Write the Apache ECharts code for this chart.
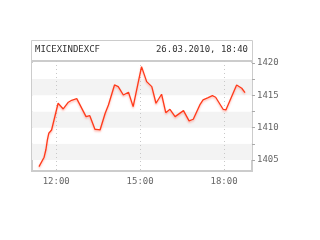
<!DOCTYPE html>
<html>
<head>
<meta charset="utf-8">
<style>html,body{margin:0;padding:0;background:#fff;}#c{width:320px;height:240px;}</style>
<script src="https://cdn.jsdelivr.net/npm/echarts@6/dist/echarts.min.js"></script>
</head>
<body>
<div id="c"></div>
<script>
var title = 'MICEXINDEXCF';
var stamp = '26.03.2010, 18:40';
var times = ['11:23','11:34','11:38','11:41','11:44','11:50','11:54','12:04','12:15','12:26','12:33','12:44','12:47',
  '13:04','13:12','13:16','13:23','13:34','13:45','13:52','14:05','14:13','14:24','14:35','14:45',
  '15:03','15:14','15:25','15:34','15:46','15:55','16:04','16:15','16:33','16:45','16:54',
  '17:08','17:15','17:26','17:35','17:42','17:58','18:04','18:27','18:38','18:45'];
var values = [1403.97,1405.43,1406.66,1408.1,1409.13,1409.64,1409.9,1413.77,1412.89,1413.93,1414.23,1414.48,1414.44,
  1411.7,1411.85,1411.7,1409.75,1409.64,1412.23,1413.5,1416.6,1416.34,1415.05,1415.47,1413.25,
  1419.43,1417.11,1416.34,1413.77,1415.16,1412.32,1412.84,1411.7,1412.63,1411.04,1411.3,
  1413.51,1414.28,1414.64,1414.95,1414.7,1412.84,1412.74,1416.6,1416.09,1415.41];
var xTicks = ['12:00','15:00','18:00'];
var yLabels = [1405,1410,1415,1420];
var yBands = [1405,1407.5,1410,1412.5,1415,1417.5,1420];

function toMin(s){var p=s.split(':');return (+p[0])*60+(+p[1]);}
function fmt(m){var h=Math.floor(m/60),mm=m%60;return (h<10?'0':'')+h+':'+(mm<10?'0':'')+mm;}
var data = times.map(function(t,i){return [toMin(t), values[i]];});
var mono = 'DejaVu Sans Mono';

var chart = echarts.init(document.getElementById('c'), null, {renderer:'canvas'});
chart.setOption({
  animation:false,
  backgroundColor:'#fff',
  grid:{left:32,right:68,top:61,bottom:69,show:true,borderColor:'#cccccc',borderWidth:2,backgroundColor:'transparent'},
  graphic:[
    {type:'rect',shape:{x:31.5,y:40.5,width:221,height:20},style:{fill:'#fff',stroke:'#cccccc',lineWidth:1},z:10},
    {type:'text',x:35,y:50,style:{text:title,font:'9px "'+mono+'"',fill:'#333',textVerticalAlign:'middle',verticalAlign:'middle'},z:11},
    {type:'text',x:248,y:50,style:{text:stamp,font:'9px "'+mono+'"',fill:'#333',textAlign:'right',align:'right',textVerticalAlign:'middle',verticalAlign:'middle'},z:11}
  ],
  xAxis:{type:'value',min:toMin('11:08'),max:toMin('19:00'),
    axisLine:{show:false},
    axisTick:{show:false,customValues:xTicks.map(toMin)},
    axisLabel:{customValues:xTicks.map(toMin),formatter:function(v){return fmt(v);},color:'#666',fontFamily:mono,fontSize:9,margin:6},
    splitLine:{show:true,lineStyle:{color:'#c8c8c8',type:[1,3],width:1}}
  },
  yAxis:{type:'value',position:'right',min:1403.3,max:1420.3,
    axisLine:{show:false},
    axisTick:{show:true,length:3,customValues:yBands,lineStyle:{color:'#aaa'}},
    axisLabel:{customValues:yLabels,formatter:function(v){return String(v);},color:'#666',fontFamily:mono,fontSize:9,margin:5},
    splitLine:{show:false},
    splitArea:{show:true,areaStyle:{color:['#f3f3f3','#ffffff']}}
  },
  series:[{type:'line',data:data,showSymbol:false,symbol:'none',
    lineStyle:{color:'#ff3a1a',width:1.3,shadowColor:'rgba(255,90,70,0.45)',shadowBlur:2,shadowOffsetY:1.5}}]
});
</script>
</body>
</html>
